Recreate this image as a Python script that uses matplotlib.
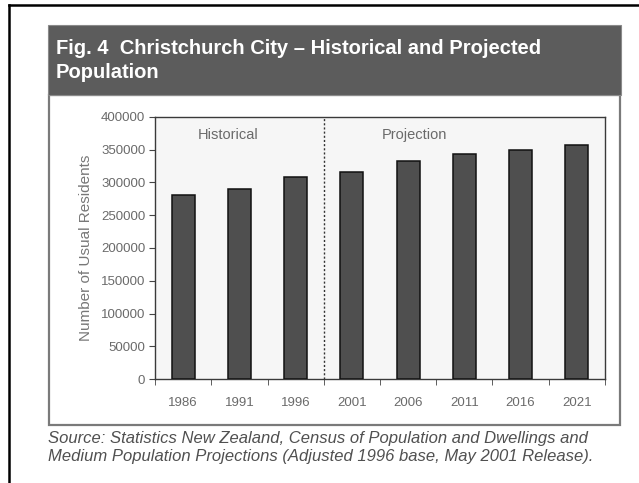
import numpy as np
import matplotlib
matplotlib.use("Agg")
import matplotlib.pyplot as plt
from matplotlib.patches import Rectangle
from matplotlib.lines import Line2D

# data
years = ["1986", "1991", "1996", "2001", "2006", "2011", "2016", "2021"]
residents = [281000, 290000, 309000, 316500, 333300, 343500, 349600, 357300]
n_historical = 3

W, H = 639, 483
plt.rcParams['font.family'] = ['Liberation Sans', 'DejaVu Sans']

fig = plt.figure(figsize=(W / 100, H / 100), dpi=100)
fig.patch.set_facecolor("white")


def fx(x):
    return x / W


def fy(y):
    return 1 - y / H


# outer black frame (top and left only, the scan is cropped)
fig.add_artist(Line2D([fx(9), fx(639)], [fy(5), fy(5)], color="black", lw=1.8, zorder=0))
fig.add_artist(Line2D([fx(9), fx(9)], [fy(5), fy(483)], color="black", lw=1.8, zorder=0))

# white chart box and dark header band
fig.add_artist(Rectangle((fx(49), fy(425)), fx(620 - 49), (425 - 95) / H,
                         facecolor="white", edgecolor="#7a7a7a", lw=1.6, zorder=0))
fig.add_artist(Rectangle((fx(48), fy(95)), fx(621 - 48), (95 - 25) / H,
                         facecolor="#5c5c5c", edgecolor="#8a8a8a", lw=0.8, zorder=0))

fig.text(fx(56), fy(49), "Fig. 4  Christchurch City \u2013 Historical and Projected",
         color="white", fontsize=14.5, fontweight="bold", va="center", ha="left")
fig.text(fx(56), fy(72), "Population",
         color="white", fontsize=14.5, fontweight="bold", va="center", ha="left")

# plot area
ax = fig.add_axes([fx(155), fy(379), fx(605 - 155), (379 - 117) / H], zorder=2)
ax.set_facecolor("#f6f6f6")
x = np.arange(len(years))
ax.bar(x, residents, width=0.41, color="#4f4f4f", edgecolor="#111111", lw=1.1, zorder=3)

ax.set_xlim(-0.5, len(years) - 0.5)
ax.set_ylim(0, 400000)
ax.set_yticks(np.arange(0, 400001, 50000))
ax.set_xticks(x)
ax.set_xticklabels(years)
ax.set_xticks(np.arange(-0.5, len(years), 1), minor=True)
ax.tick_params(axis="x", which="major", length=0, pad=13, labelsize=9.5, labelcolor="#6a6a6a")
ax.tick_params(axis="x", which="minor", length=4, direction="out", color="#444444")
ax.tick_params(axis="y", length=4, direction="out", color="#444444", labelsize=9.5,
               labelcolor="#6a6a6a", pad=3)
for s in ax.spines.values():
    s.set_color("#3a3a3a")
    s.set_linewidth(1.0)

ax.set_ylabel("Number of Usual Residents", color="#777777", fontsize=11, labelpad=6)

# historical / projection divider
ax.axvline(n_historical - 0.5, color="#333333", lw=1.0, ls=(0, (1.5, 1.5)), zorder=4)
ax.text(0.8, 372500, "Historical", color="#6a6a6a", fontsize=10.5, ha="center", va="center")
ax.text(4.12, 372500, "Projection", color="#6a6a6a", fontsize=10.5, ha="center", va="center")

fig.text(fx(48), fy(438),
         "Source: Statistics New Zealand, Census of Population and Dwellings and",
         color="#505050", fontsize=12, style="italic", va="center", ha="left")
fig.text(fx(48), fy(457),
         "Medium Population Projections (Adjusted 1996 base, May 2001 Release).",
         color="#505050", fontsize=12, style="italic", va="center", ha="left")

fig.savefig("out.png", dpi=100)
